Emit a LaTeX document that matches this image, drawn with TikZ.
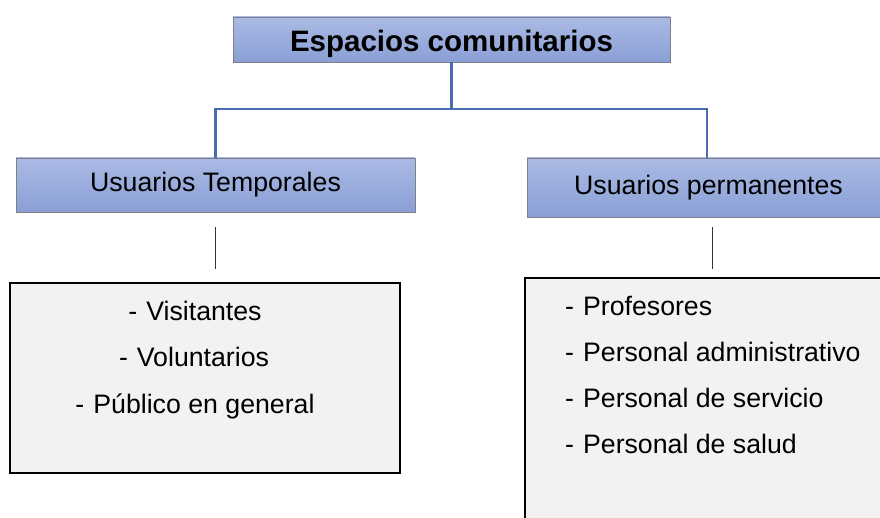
\documentclass[tikz,border=0pt]{standalone}
\usepackage{fontspec}
\setmainfont{Liberation Sans}
\usetikzlibrary{calc}
\definecolor{hdtop}{HTML}{AABAE4}
\definecolor{hdbot}{HTML}{8A9FD5}
\definecolor{hdline}{HTML}{7F7F8A}
\definecolor{conncol}{HTML}{4A6BB0}
\definecolor{listfill}{HTML}{F2F2F2}
\tikzset{
  hdbox/.style={top color=hdtop, bottom color=hdbot, draw=hdline, line width=0.8pt,
    inner sep=0pt, font=\fontsize{26.7}{30}\selectfont},
  titlebox/.style={hdbox, font=\fontsize{29.5}{32}\selectfont\bfseries},
  listbox/.style={fill=listfill, draw=black, line width=2pt, inner sep=0pt},
  conn/.style={draw=conncol, line width=2.6pt},
  thin/.style={draw=black!80, line width=0.9pt},
  item/.style={inner sep=0pt, font=\fontsize{26.7}{30}\selectfont},
}
\begin{document}
\begin{tikzpicture}[x=1pt,y=1pt]
\useasboundingbox (0,0) rectangle (880,-518);
\clip (0,0) rectangle (880,-518);
\fill[white] (0,0) rectangle (880,-518);
% header boxes
\node[titlebox, minimum width=437, minimum height=45] (title) at (451.5,-39.5) {\raisebox{-4pt}[\height][\depth]{Espacios comunitarios}};
\node[hdbox, minimum width=399, minimum height=54] (tu) at (215.5,-185) {Usuarios Temporales};
\node[hdbox, minimum width=363, minimum height=59] (pu) at (708.5,-187.5) {Usuarios permanentes};
% connectors
\coordinate (bus) at (451.5,-109);
\draw[conn] (title.south) -- (bus);
\draw[conn] ([xshift=1.3pt]bus) -| (tu.north);
\draw[conn] ([xshift=-1.3pt]bus) -| ([xshift=-1.5pt]pu.north);
% list boxes
\node[listbox, minimum width=390, minimum height=190] (tl) at (205,-378) {};
\node[listbox, minimum width=400, minimum height=270] (pl) at (725,-413) {};
% short lines
\draw[thin, shorten <=15pt, shorten >=13pt] (tu.south) -- (tu.south |- tl.north);
\draw[thin, shorten <=10pt, shorten >=8pt] ([xshift=3.5pt]pu.south) -- ([xshift=3.5pt]pu.south |- pl.north);
% left list items
\node[item, anchor=base] (v1) at (195,-320.5) {-\hspace{9pt}Visitantes};
\node[item, anchor=base] (v2) at (194,-366.5) {-\hspace{9pt}Voluntarios};
\node[item, anchor=base] (v3) at (195,-413) {-\hspace{9pt}Público en general};
% right list items
\node[item, anchor=base west] (p1) at (565,-315.5) {-\hspace{9pt}Profesores};
\node[item, anchor=base west] (p2) at (565,-361.5) {-\hspace{9pt}Personal administrativo};
\node[item, anchor=base west] (p3) at (565,-407.5) {-\hspace{9pt}Personal de servicio};
\node[item, anchor=base west] (p4) at (565,-453.5) {-\hspace{9pt}Personal de salud};
\end{tikzpicture}
\end{document}
